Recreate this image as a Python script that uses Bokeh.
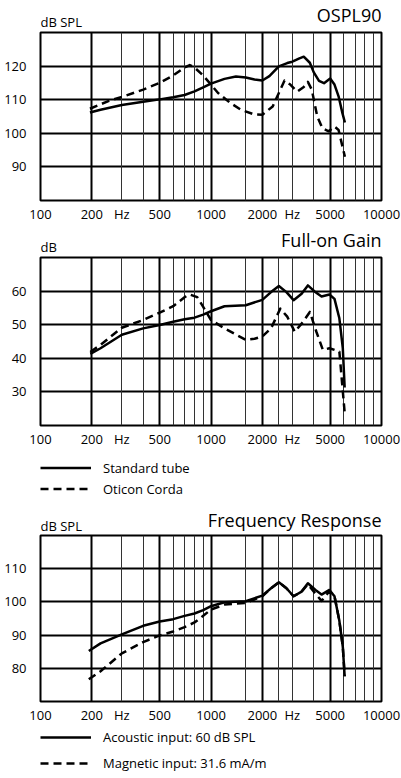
from bokeh.plotting import figure
from bokeh.layouts import column
from bokeh.models import Range1d, FixedTicker, Grid, Label, CustomJSTickFormatter, ColumnDataSource
from bokeh.embed import file_html
from bokeh.resources import INLINE

# ---------------- data ----------------
XTICKS = [100, 200, 300, 500, 1000, 2000, 3000, 5000, 10000]
XTICK_LABELS = ["100", "200", "Hz", "500", "1000", "2000", "Hz", "5000", "10000"]
MAJOR_VLINES = [200, 500, 1000, 2000, 5000]
MINOR_VLINES = [300, 400, 600, 700, 800, 900, 1600, 2500, 3000, 4000, 6000, 7000, 8000, 9000]

OSPL_YTICKS = [90, 100, 110, 120]
GAIN_YTICKS = [30, 40, 50, 60]
FR_YTICKS = [80, 90, 100, 110]

OSPL_STD_F = [195, 225, 300, 400, 500, 600, 700, 800, 900, 1000, 1200, 1400, 1600, 1800, 2000,
              2200, 2500, 2800, 3000, 3300, 3500, 3800, 4000, 4300, 4600, 5000, 5300, 5600, 5900, 6100]
OSPL_STD = [106.2, 107.0, 108.4, 109.4, 110.1, 110.7, 111.4, 112.5, 113.7, 114.8, 116.2, 116.9, 116.6, 116.0, 115.7,
            117.0, 119.9, 120.9, 121.3, 122.3, 122.8, 121.0, 118.2, 115.6, 114.9, 116.3, 114.5, 111.0, 106.0, 103.2]

OSPL_COR_F = [195, 250, 300, 400, 500, 600, 700, 750, 800, 900, 1000, 1100, 1300, 1500, 1800, 2000,
              2300, 2500, 2700, 2900, 3200, 3500, 3700, 3900, 4200, 4500, 4900, 5300, 5600, 6100]
OSPL_COR = [107.3, 109.6, 110.8, 113.0, 115.0, 117.2, 119.6, 120.3, 119.6, 117.2, 114.5, 112.0, 109.0, 107.0, 105.6, 105.5,
            108.0, 112.0, 115.7, 114.6, 112.4, 113.8, 115.3, 113.0, 105.0, 101.5, 100.6, 102.0, 101.0, 93.0]

GAIN_STD_F = [196, 225, 300, 400, 500, 600, 700, 800, 900, 1000, 1200, 1600, 2000, 2250, 2500, 2770,
              3050, 3400, 3700, 4050, 4450, 4950, 5300, 5660, 5930, 6080]
GAIN_STD = [41.3, 43.0, 47.0, 48.9, 49.9, 50.9, 51.6, 52.1, 53.0, 54.0, 55.5, 55.8, 57.4, 59.7, 61.5, 59.7,
            57.3, 59.2, 61.7, 59.9, 58.4, 59.0, 57.7, 51.9, 43.0, 31.3]

GAIN_COR_F = [196, 225, 300, 400, 500, 600, 700, 750, 830, 900, 1000, 1200, 1600, 1800, 2000, 2250, 2550,
              2800, 3100, 3450, 3800, 4150, 4530, 4950, 5300, 5660, 6080]
GAIN_COR = [41.9, 44.0, 49.1, 51.4, 53.6, 55.5, 58.2, 59.0, 58.2, 55.3, 51.4, 48.9, 45.5, 45.8, 46.5, 48.9, 54.8,
            52.4, 47.9, 50.7, 53.8, 47.9, 42.5, 43.0, 42.5, 42.0, 23.9]

FR_F = [192, 225, 300, 400, 500, 600, 700, 800, 900, 1000, 1200, 1600, 2000, 2250, 2500, 2770,
        3050, 3400, 3700, 4100, 4450, 4950, 5300, 5660, 5930, 6080]
FR_ACOUSTIC = [85.2, 87.5, 90.2, 92.8, 94.1, 94.8, 95.8, 96.5, 97.5, 98.7, 99.9, 100.2, 101.9, 104.1, 105.9, 104.1,
               101.7, 103.1, 105.6, 103.6, 102.2, 103.6, 101.7, 94.3, 86.5, 77.6]
FR_MAGNETIC = [76.7, 79.1, 84.5, 87.9, 89.9, 91.1, 92.4, 93.8, 95.8, 97.7, 99.2, 99.7, 101.7, 104.1, 105.9, 104.1,
               101.7, 103.1, 105.3, 102.5, 100.3, 103.2, 101.7, 94.3, 86.5, 77.6]

FONT = "Open Sans"
DASH = "8 5"


def make_header(title, unit, height, title_mid, unit_mid):
    # y range in pixels measured up from the header's bottom edge; labels are centred vertically
    p = figure(width=401, height=height, x_axis_type=None, y_axis_type=None,
               x_range=Range1d(0, 1), y_range=Range1d(0, height),
               output_backend="svg", toolbar_location=None,
               min_border_left=40, min_border_right=20, min_border_top=0, min_border_bottom=0)
    p.outline_line_color = None
    p.xgrid.visible = False
    p.ygrid.visible = False
    p.add_layout(Label(x=1, y=title_mid, text=title, text_align="right", text_baseline="middle",
                       text_font=FONT, text_font_size="18px", text_color="black"))
    p.add_layout(Label(x=0, y=unit_mid, text=unit, text_align="left", text_baseline="middle",
                       text_font=FONT, text_font_size="13px", text_color="black"))
    return p


def make_chart(ymin, ymax, yticks, series, top, bottom):
    p = figure(width=401, height=top + 170 + bottom, x_axis_type="log",
               x_range=Range1d(100, 10000), y_range=Range1d(ymin, ymax),
               output_backend="svg", toolbar_location=None,
               min_border_left=40, min_border_right=20, min_border_top=top, min_border_bottom=bottom)
    p.outline_line_color = "black"
    p.outline_line_width = 2
    p.background_fill_color = "white"

    p.xaxis.ticker = FixedTicker(ticks=XTICKS)
    p.xaxis.formatter = CustomJSTickFormatter(args=dict(xt=XTICKS, xl=XTICK_LABELS),
                                              code="const i = xt.indexOf(tick); return i >= 0 ? xl[i] : '';")
    p.yaxis.ticker = FixedTicker(ticks=yticks)
    for ax in (p.xaxis, p.yaxis):
        ax.axis_line_color = None
        ax.major_tick_line_color = None
        ax.minor_tick_line_color = None
        ax.major_tick_in = 0
        ax.major_tick_out = 0
        ax.minor_tick_in = 0
        ax.minor_tick_out = 0
        ax.major_label_text_font = FONT
        ax.major_label_text_color = "black"
    p.xaxis.major_label_text_font_size = "13px"
    p.xaxis.major_label_standoff = 4
    p.yaxis.major_label_text_font_size = "13px"
    p.yaxis.major_label_standoff = 14

    p.xgrid.ticker = FixedTicker(ticks=MAJOR_VLINES)
    p.xgrid.grid_line_color = "black"
    p.xgrid.grid_line_width = 2
    p.ygrid.ticker = FixedTicker(ticks=yticks)
    p.ygrid.grid_line_color = "black"
    p.ygrid.grid_line_width = 2
    minor = Grid(dimension=0, ticker=FixedTicker(ticks=MINOR_VLINES),
                 grid_line_color="#333333", grid_line_width=1)
    p.add_layout(minor)

    for xs, ys, dash in series:
        src = ColumnDataSource(dict(f=xs, v=ys))
        p.line("f", "v", source=src, line_color="black", line_width=2.5, line_dash=dash,
               line_join="round")
    return p


def make_legend(labels, height, top, spacing, item_h):
    p = figure(width=401, height=height, x_axis_type=None, y_axis_type=None,
               x_range=Range1d(0, 1), y_range=Range1d(0, 1),
               output_backend="svg", toolbar_location=None,
               min_border_left=39, min_border_right=0, min_border_top=top, min_border_bottom=0)
    p.outline_line_color = None
    p.xgrid.visible = False
    p.ygrid.visible = False
    nan = float("nan")
    for lab, dash in labels:
        p.line(x=[nan, nan], y=[nan, nan], line_color="black", line_width=2.5, line_dash=dash,
               legend_label=lab)
    lg = p.legend[0]
    lg.location = "top_left"
    lg.margin = 0
    lg.padding = 0
    lg.border_line_color = None
    lg.background_fill_alpha = 0
    lg.glyph_width = 51
    lg.glyph_height = item_h
    lg.label_height = item_h
    lg.spacing = spacing
    lg.label_standoff = 12
    lg.label_text_font = FONT
    lg.label_text_font_size = "13px"
    lg.label_text_color = "black"
    return p


h1 = make_header("OSPL90", "dB SPL", 31, 16.5, 10)
p1 = make_chart(80, 130, OSPL_YTICKS,
                [(OSPL_STD_F, OSPL_STD, "solid"), (OSPL_COR_F, OSPL_COR, DASH)], 1, 23)
h2 = make_header("Full-on Gain", "dB", 31, 16.5, 10)
p2 = make_chart(20, 70, GAIN_YTICKS,
                [(GAIN_STD_F, GAIN_STD, "solid"), (GAIN_COR_F, GAIN_COR, DASH)], 1, 23)
leg1 = make_legend([("Standard tube", "solid"), ("Oticon Corda", DASH)], 55, 7, 0, 21)
h3 = make_header("Frequency Response", "dB SPL", 29, 14.5, 9)
p3 = make_chart(70, 120, FR_YTICKS,
                [(FR_F, FR_ACOUSTIC, "solid"), (FR_F, FR_MAGNETIC, DASH)], 1, 21)
leg2 = make_legend([("Acoustic input: 60 dB SPL", "solid"), ("Magnetic input: 31.6 mA/m", DASH)], 52, 0, 4, 22)

layout = column(h1, p1, h2, p2, leg1, h3, p3, leg2, spacing=0)
open("out.html", "w").write(file_html(layout, INLINE))
